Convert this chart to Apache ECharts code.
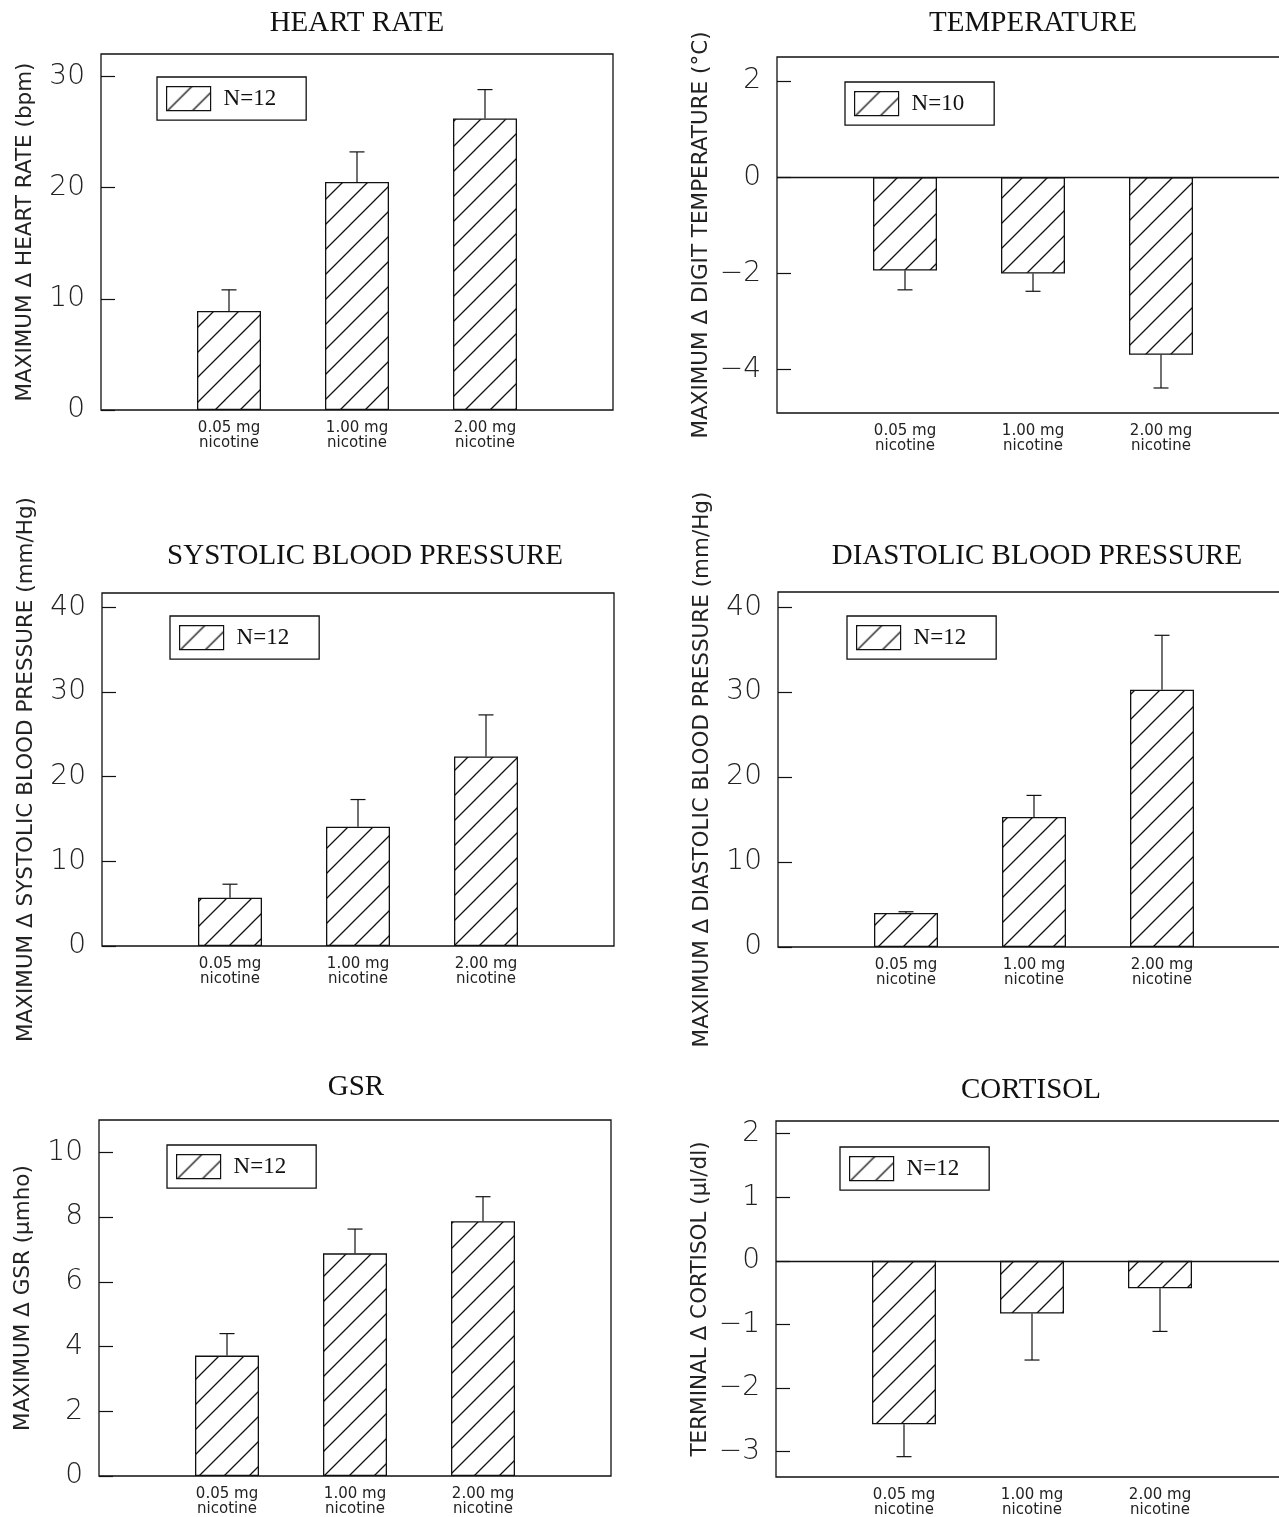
<!DOCTYPE html>
<html>
<head>
<meta charset="utf-8">
<script src="https://cdn.jsdelivr.net/npm/echarts@6/dist/echarts.min.js"></script>
<style>
  html, body { margin: 0; background: #fff; }
  #chart { width: 1279px; height: 1517px; }
</style>
</head>
<body>
<div id="chart"></div>
<script>
// dose groups (x categories)
const doses = ['0.05 mg\nnicotine', '1.00 mg\nnicotine', '2.00 mg\nnicotine'];

// mean change and error (SEM) per panel
const hrMean = [8.9, 20.5, 26.2];
const hrErr = [1.9, 2.7, 2.6];
const tempMean = [-1.94, -2.0, -3.69];
const tempErr = [0.40, 0.37, 0.69];
const sbpMean = [5.7, 14.1, 22.4];
const sbpErr = [1.6, 3.2, 4.9];
const dbpMean = [4.0, 15.3, 30.3];
const dbpErr = [0.15, 2.55, 6.4];
const gsrMean = [3.72, 6.88, 7.87];
const gsrErr = [0.68, 0.75, 0.76];
const cortMean = [-2.57, -0.83, -0.43];
const cortErr = [0.51, 0.73, 0.68];

// y tick labels
const hrTicks = [0, 10, 20, 30];
const tempTicks = [-4, -2, 0, 2];
const bpTicks = [0, 10, 20, 30, 40];
const gsrTicks = [0, 2, 4, 6, 8, 10];
const cortTicks = [-3, -2, -1, 0, 1, 2];

const panels = [
  { title: 'HEART RATE', yName: 'MAXIMUM \u0394 HEART RATE (bpm)', n: 'N=12', mean: hrMean, err: hrErr, ticks: hrTicks, min: 0, max: 32,
    grid: { left: 101, top: 54, height: 356 }, titleAt: [357, 9], legendAt: [157, 77] },
  { title: 'TEMPERATURE', yName: 'MAXIMUM \u0394 DIGIT TEMPERATURE (\u00b0C)', n: 'N=10', mean: tempMean, err: tempErr, ticks: tempTicks, min: -4.9, max: 2.5,
    grid: { left: 777, top: 57, height: 356 }, titleAt: [1033, 9], legendAt: [845, 82] },
  { title: 'SYSTOLIC BLOOD PRESSURE', yName: 'MAXIMUM \u0394 SYSTOLIC BLOOD PRESSURE (mm/Hg)', n: 'N=12', mean: sbpMean, err: sbpErr, ticks: bpTicks, min: 0, max: 41.7,
    grid: { left: 102, top: 593, height: 353 }, titleAt: [365, 542], legendAt: [170, 616] },
  { title: 'DIASTOLIC BLOOD PRESSURE', yName: 'MAXIMUM \u0394 DIASTOLIC BLOOD PRESSURE (mm/Hg)', n: 'N=12', mean: dbpMean, err: dbpErr, ticks: bpTicks, min: 0, max: 41.8,
    grid: { left: 778, top: 592, height: 355 }, titleAt: [1037, 542], legendAt: [847, 616] },
  { title: 'GSR', yName: 'MAXIMUM \u0394 GSR (\u03bcmho)', n: 'N=12', mean: gsrMean, err: gsrErr, ticks: gsrTicks, min: 0, max: 11,
    grid: { left: 99, top: 1120, height: 356 }, titleAt: [356, 1073], legendAt: [167, 1145] },
  { title: 'CORTISOL', yName: 'TERMINAL \u0394 CORTISOL (\u03bcl/dl)', n: 'N=12', mean: cortMean, err: cortErr, ticks: cortTicks, min: -3.4, max: 2.2,
    grid: { left: 776, top: 1121, height: 356 }, titleAt: [1031, 1076], legendAt: [840, 1147] }
];

// diagonal hatching for the bars
function makeHatch() {
  const s = 25;
  const c = document.createElement('canvas');
  c.width = s; c.height = s;
  const g = c.getContext('2d');
  g.fillStyle = '#fff';
  g.fillRect(0, 0, s, s);
  g.strokeStyle = '#111';
  g.lineWidth = 1.3;
  g.beginPath();
  g.moveTo(-2, s + 2); g.lineTo(s + 2, -2);
  g.moveTo(-2, 2); g.lineTo(2, -2);
  g.moveTo(s - 2, s + 2); g.lineTo(s + 2, s - 2);
  g.stroke();
  return c;
}
const hatch = { image: makeHatch(), repeat: 'repeat' };

const axisCats = [''].concat(doses, ['']);
const sansFont = 'DejaVu Sans';
const serifFont = 'Liberation Serif';

const grids = [], xAxes = [], yAxes = [], series = [], titles = [], legends = [];

panels.forEach((p, i) => {
  grids.push(Object.assign({
    width: 512, show: true, borderColor: '#111', borderWidth: 1.3,
    containLabel: false, outerBoundsMode: 'none'
  }, p.grid));

  xAxes.push({
    type: 'category', gridIndex: i, data: axisCats, boundaryGap: false,
    axisLine: { show: false }, axisTick: { show: false },
    axisLabel: { interval: 0, margin: 11, fontFamily: sansFont, fontSize: 15, lineHeight: 15, color: '#222' }
  });

  yAxes.push({
    type: 'value', gridIndex: i, min: p.min, max: p.max,
    name: p.yName, nameLocation: 'middle', nameRotate: 90, nameGap: 65,
    nameTextStyle: { fontFamily: sansFont, fontSize: 21.5, color: '#222' },
    splitLine: { show: false },
    axisLine: { show: false },
    axisTick: { show: true, inside: true, length: 14, customValues: p.ticks, lineStyle: { color: '#111', width: 1.2 } },
    axisLabel: {
      customValues: p.ticks, margin: 16, fontFamily: sansFont, fontWeight: 200, fontSize: 28, color: '#222',
      formatter: v => (v < 0 ? '\u2212' + Math.abs(v) : String(v))
    }
  });

  const bar = {
    type: 'bar', name: p.n, xAxisIndex: i, yAxisIndex: i, barWidth: 64,
    itemStyle: { color: hatch, borderColor: '#111', borderWidth: 1.3 },
    data: p.mean.map((m, k) => [k + 1, m])
  };
  if (p.min < 0) {
    bar.markLine = {
      silent: true, symbol: 'none', label: { show: false },
      lineStyle: { color: '#111', width: 1.3, type: 'solid' },
      data: [{ yAxis: 0 }]
    };
  }
  series.push(bar);

  series.push({
    type: 'custom', name: 'err' + i, xAxisIndex: i, yAxisIndex: i, z: 5, silent: true,
    data: p.mean.map((m, k) => [k + 1, m, p.err[k]]),
    renderItem: (params, api) => {
      const x = api.value(0), m = api.value(1), e = api.value(2);
      const end = m < 0 ? m - e : m + e;
      const p0 = api.coord([x, m]);
      const p1 = api.coord([x, end]);
      const st = { stroke: '#111', lineWidth: 1.2 };
      return {
        type: 'group',
        children: [
          { type: 'line', shape: { x1: p0[0], y1: p0[1], x2: p1[0], y2: p1[1] }, style: st },
          { type: 'line', shape: { x1: p1[0] - 7.5, y1: p1[1], x2: p1[0] + 7.5, y2: p1[1] }, style: st }
        ]
      };
    }
  });

  titles.push({
    text: p.title, left: p.titleAt[0], top: p.titleAt[1], textAlign: 'center', padding: 0,
    textStyle: { fontFamily: serifFont, fontWeight: 'normal', fontSize: 29, color: '#111' }
  });

  legends.push({
    data: [p.n], left: p.legendAt[0], top: p.legendAt[1], orient: 'horizontal',
    padding: [9, 30, 9, 9], itemWidth: 44, itemHeight: 24,
    borderColor: '#111', borderWidth: 1.3, selectedMode: false,
    icon: 'rect',
    itemStyle: { borderColor: '#111', borderWidth: 1.2 },
    textStyle: { fontFamily: serifFont, fontSize: 23, color: '#111', padding: [0, 0, 0, 8] }
  });
});

const chart = echarts.init(document.getElementById('chart'));
chart.setOption({
  animation: false,
  backgroundColor: '#fff',
  title: titles,
  legend: legends,
  grid: grids,
  xAxis: xAxes,
  yAxis: yAxes,
  series: series
});
</script>
</body>
</html>
